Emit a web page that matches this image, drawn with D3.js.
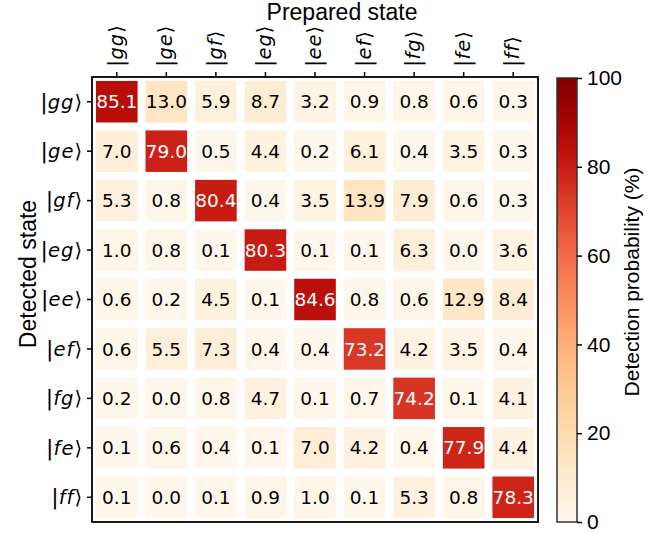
<!DOCTYPE html>
<html>
<head>
<meta charset="utf-8">
<script src="https://d3js.org/d3.v7.min.js"></script>
<style type="text/css">
  body { margin: 0; background: #fff; }
  text { font-family: "Liberation Sans", Arial, sans-serif; }
  .cell-label { font-family: "DejaVu Sans", sans-serif; }
  .ket { font-family: "DejaVu Sans", sans-serif; }
</style>
</head>
<body>
<svg id="chart" width="672" height="533"></svg>
<script>

// basis states, used for both axes
const states = ['gg', 'ge', 'gf', 'eg', 'ee', 'ef', 'fg', 'fe', 'ff'];

// one row per detected state, columns are the prepared state (%)
const rowGG = [85.1, 13.0, 5.9, 8.7, 3.2, 0.9, 0.8, 0.6, 0.3];
const rowGE = [7.0, 79.0, 0.5, 4.4, 0.2, 6.1, 0.4, 3.5, 0.3];
const rowGF = [5.3, 0.8, 80.4, 0.4, 3.5, 13.9, 7.9, 0.6, 0.3];
const rowEG = [1.0, 0.8, 0.1, 80.3, 0.1, 0.1, 6.3, 0.0, 3.6];
const rowEE = [0.6, 0.2, 4.5, 0.1, 84.6, 0.8, 0.6, 12.9, 8.4];
const rowEF = [0.6, 5.5, 7.3, 0.4, 0.4, 73.2, 4.2, 3.5, 0.4];
const rowFG = [0.2, 0.0, 0.8, 4.7, 0.1, 0.7, 74.2, 0.1, 4.1];
const rowFE = [0.1, 0.6, 0.4, 0.1, 7.0, 4.2, 0.4, 77.9, 4.4];
const rowFF = [0.1, 0.0, 0.1, 0.9, 1.0, 0.1, 5.3, 0.8, 78.3];

const colorbarTicks = [0, 20, 40, 60, 80, 100];

const rows = [rowGG, rowGE, rowGF, rowEG, rowEE, rowEF, rowFG, rowFE, rowFF];

const cells = [];
rows.forEach((r, i) => {
  r.forEach((v, j) => {
    cells.push({ detected: states[i], prepared: states[j], value: v });
  });
});

const chart = d3.select('#chart');
const plot = { left: 92, top: 77, width: 446, height: 445 };

const x = d3.scaleBand().domain(states).range([plot.left, plot.left + plot.width]).paddingInner(0.16).paddingOuter(0.08);
const y = d3.scaleBand().domain(states).range([plot.top, plot.top + plot.height]).paddingInner(0.16).paddingOuter(0.08);
const color = d3.scaleSequential(d3.interpolateOrRd).domain([0, 100]);

// tiles
chart.append('g')
  .selectAll('rect')
  .data(cells)
  .join('rect')
  .attr('x', d => x(d.prepared))
  .attr('y', d => y(d.detected))
  .attr('width', x.bandwidth())
  .attr('height', y.bandwidth())
  .attr('fill', d => color(d.value));

chart.append('g')
  .selectAll('text')
  .data(cells)
  .join('text')
  .attr('class', 'cell-label')
  .attr('x', d => x(d.prepared) + x.bandwidth() / 2)
  .attr('y', d => y(d.detected) + y.bandwidth() / 2)
  .attr('dy', '0.36em')
  .attr('text-anchor', 'middle')
  .attr('font-size', 18.5)
  .attr('fill', d => d.value > 50 ? '#fff' : '#000')
  .text(d => d.value.toFixed(1));

// frame
chart.append('rect')
  .attr('x', plot.left)
  .attr('y', plot.top)
  .attr('width', plot.width)
  .attr('height', plot.height)
  .attr('fill', 'none')
  .attr('stroke', '#000')
  .attr('stroke-width', 1.8);

function ket(sel, s) {
  sel.append('tspan').attr('font-size', 22).text('|');
  sel.append('tspan').attr('font-style', 'italic').attr('letter-spacing', 1).text(s);
  sel.append('tspan').text('\u27E9');
}

// top axis (prepared)
const topAxis = chart.append('g')
  .attr('transform', `translate(0 ${plot.top})`)
  .call(d3.axisTop(x).tickSize(5).tickFormat(''));
topAxis.select('.domain').remove();
topAxis.selectAll('.tick line').attr('stroke-width', 1.5);
topAxis.selectAll('.tick').each(function(d) {
  const t = d3.select(this).append('text')
    .attr('class', 'ket')
    .attr('transform', 'translate(6 -10) rotate(-90)')
    .attr('text-anchor', 'start')
    .attr('fill', '#000')
    .attr('font-size', 19.5);
  ket(t, d);
});

// left axis (detected)
const leftAxis = chart.append('g')
  .attr('transform', `translate(${plot.left} 0)`)
  .call(d3.axisLeft(y).tickSize(5).tickFormat(''));
leftAxis.select('.domain').remove();
leftAxis.selectAll('.tick line').attr('stroke-width', 1.5);
leftAxis.selectAll('.tick').each(function(d) {
  const t = d3.select(this).append('text')
    .attr('class', 'ket')
    .attr('x', -10)
    .attr('dy', '0.35em')
    .attr('text-anchor', 'end')
    .attr('fill', '#000')
    .attr('font-size', 19.5);
  ket(t, d);
});

chart.append('text')
  .attr('x', 342)
  .attr('y', 20)
  .attr('text-anchor', 'middle')
  .attr('font-size', 23)
  .text('Prepared state');

chart.append('text')
  .attr('transform', 'translate(36 274) rotate(-90)')
  .attr('text-anchor', 'middle')
  .attr('font-size', 23)
  .text('Detected state');

// colorbar
const cb = { x: 557, y: 78, width: 20, height: 444 };
const cbScale = d3.scaleLinear().domain([0, 100]).range([cb.y + cb.height, cb.y]);

const defs = chart.append('defs');
const grad = defs.append('linearGradient')
  .attr('id', 'cbGrad')
  .attr('x1', 0).attr('y1', 1).attr('x2', 0).attr('y2', 0);
d3.range(0, 1.0001, 0.05).forEach(t => {
  grad.append('stop').attr('offset', t).attr('stop-color', color(t * 100));
});

chart.append('rect')
  .attr('x', cb.x)
  .attr('y', cb.y)
  .attr('width', cb.width)
  .attr('height', cb.height)
  .attr('fill', 'url(#cbGrad)')
  .attr('stroke', '#333')
  .attr('stroke-width', 1.5);

const cbAxis = chart.append('g')
  .attr('transform', `translate(${cb.x + cb.width} 0)`)
  .call(d3.axisRight(cbScale).tickValues(colorbarTicks).tickSize(5).tickPadding(5));
cbAxis.select('.domain').remove();
cbAxis.selectAll('.tick line').attr('stroke-width', 1.5);
cbAxis.selectAll('.tick text')
  .attr('font-family', '"Liberation Sans", Arial, sans-serif')
  .attr('font-size', 21)
  .attr('fill', '#000');

chart.append('text')
  .attr('transform', 'translate(639 282) rotate(-90)')
  .attr('text-anchor', 'middle')
  .attr('font-size', 21)
  .text('Detection probability (%)');

</script>
</body>
</html>
